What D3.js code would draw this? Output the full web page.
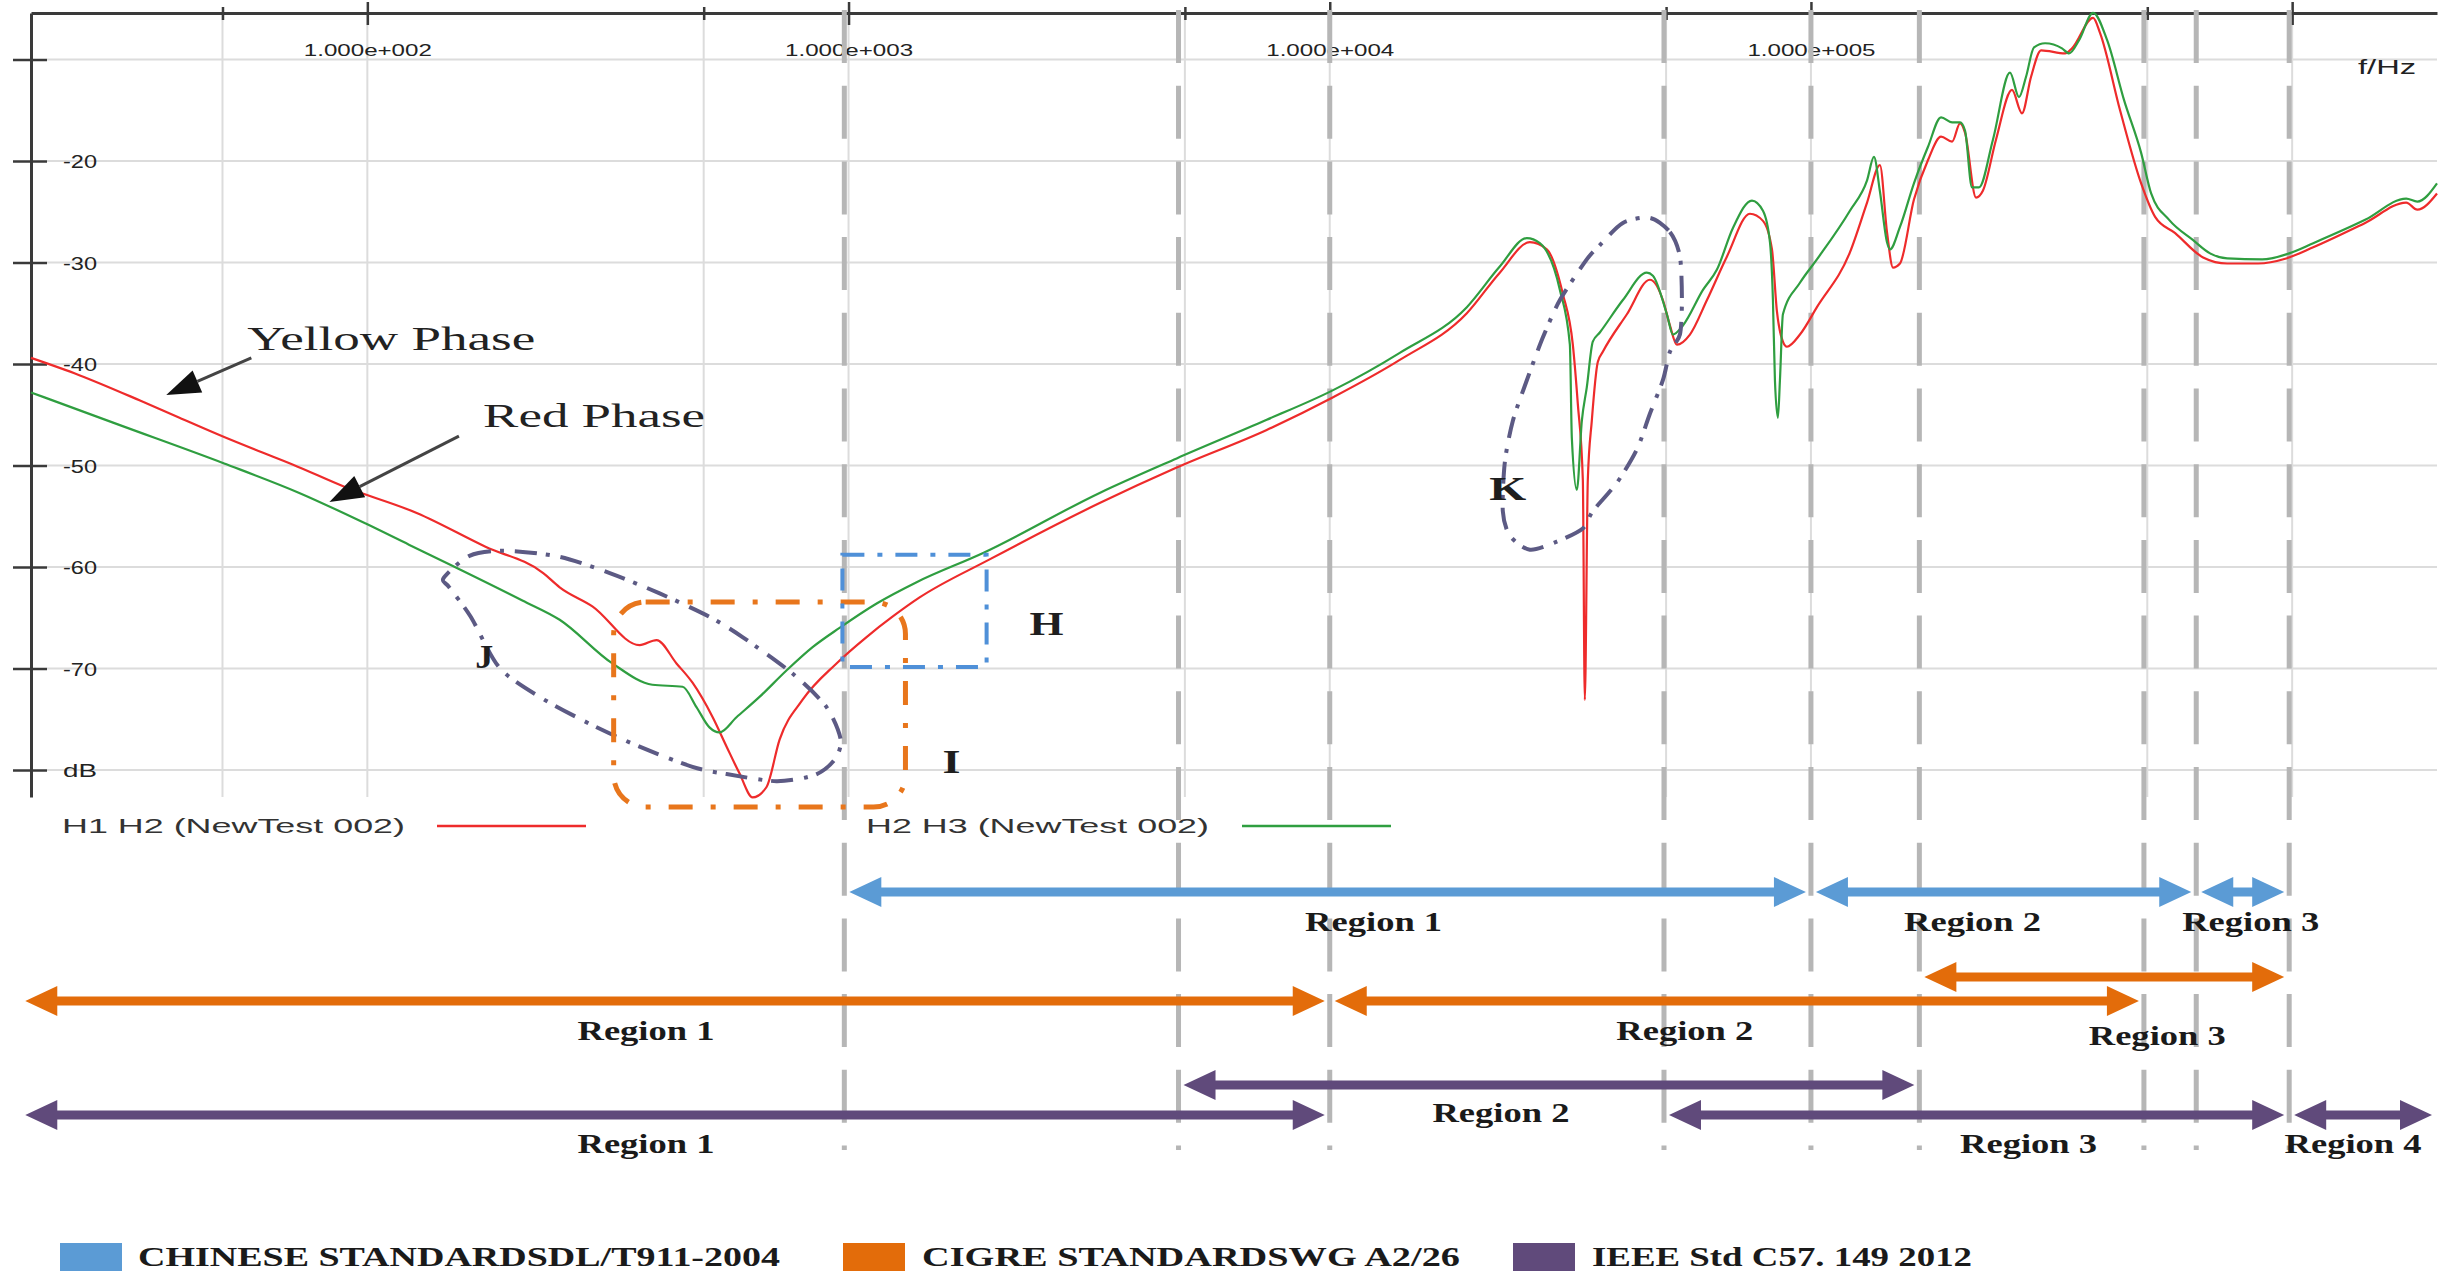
<!DOCTYPE html>
<html>
<head>
<meta charset="utf-8">
<script src="https://cdn.jsdelivr.net/npm/d3@7"></script>
<style>
  html, body { margin: 0; padding: 0; background: #ffffff; }
  svg { display: block; }
</style>
</head>
<body>
<script>
// ---------------------------------------------------------------
// Frequency response data (frequency in Hz, magnitude in dB)
// ---------------------------------------------------------------
const seriesNames = ["H1 H2 (NewTest 002)", "H2 H3 (NewTest 002)"];

const h1h2Freq = [20, 25.2, 33.7, 40.7, 50.4, 59.6, 69.9, 89.6, 127, 176, 232, 251, 294, 368, 399, 439, 474, 522, 558, 593,
  632, 675, 719, 802, 944, 1090, 1234, 1405, 1955, 3325, 4808, 7396, 10140, 13980, 19270, 22560, 26050, 28250, 30510, 32000,
  32770, 33570, 33890, 34380, 35040, 36060, 36940, 41450, 46270, 49240, 50920, 52660, 56040, 60800, 66910, 74680, 79480, 82980, 84970, 87450,
  89140, 94870, 102900, 120500, 130800, 139100, 143900, 148100, 153100, 163700, 175100, 186400, 196500, 204100, 209000, 220300, 227800, 242400, 261700, 274500,
  286700, 300800, 337400, 348800, 385800, 398900, 438900, 485500, 519100, 571300, 653100, 732800, 849900, 971600, 1106000, 1418000, 1726000, 1820000, 2000000];
const h1h2Db = [-39.4, -41.1, -43.6, -45.3, -47.2, -48.6, -49.9, -52.1, -54.7, -58.0, -60.6, -62.0, -63.9, -67.7, -67.2, -69.5, -71.4, -74.8, -77.7, -80.3,
  -82.7, -81.7, -77.0, -73.1, -69.5, -66.9, -64.9, -63.0, -59.3, -53.7, -50.2, -46.5, -43.3, -39.6, -35.0, -31.0, -28.0, -28.7, -33.1, -38.1,
  -43.9, -51.4, -73.1, -51.4, -45.6, -39.8, -38.8, -35.1, -31.7, -33.7, -36.2, -38.1, -37.1, -33.7, -29.4, -25.2, -25.9, -28.7, -34.8, -37.8,
  -38.3, -37.1, -34.4, -29.0, -24.1, -20.4, -27.0, -30.5, -30.1, -23.8, -19.9, -17.6, -18.1, -16.3, -17.2, -23.6, -22.9, -17.9, -13.0, -15.3,
  -11.7, -9.1, -9.4, -8.9, -5.9, -7.4, -15.0, -22.2, -25.5, -27.1, -29.5, -30.1, -30.1, -29.6, -28.5, -26.1, -24.1, -24.8, -23.2];

const h2h3Freq = [20, 30.5, 50.4, 72.2, 99.0, 122, 152, 210, 251, 323, 391, 452, 483, 514, 539, 585, 653, 743, 842, 958,
  1144, 1385, 1909, 3325, 4808, 7396, 10140, 13980, 19270, 22560, 25680, 27330, 30080, 31550, 31850, 32620, 33410, 34210, 35210, 36410,
  40660, 45600, 46940, 50190, 51660, 54200, 59650, 63780, 68850, 75400, 79480, 82190, 83370, 84170, 85380, 86210, 87450, 94870, 102900, 120500,
  130800, 135200, 139100, 143900, 146000, 153100, 163700, 175100, 186400, 196500, 204100, 209000, 216100, 223500, 238900, 259200, 270600, 279900, 290800, 306600,
  332500, 343900, 360700, 385800, 412600, 447400, 485500, 509300, 555100, 622700, 675300, 732800, 866300, 985800, 1106000, 1418000, 1726000, 1820000, 2000000];
const h2h3Db = [-42.8, -46.0, -49.8, -52.7, -55.7, -57.8, -60.0, -63.3, -65.2, -69.5, -71.6, -71.8, -73.8, -75.8, -76.3, -74.8, -72.8, -70.2, -67.9, -66.0,
  -63.6, -61.5, -58.6, -52.7, -49.3, -45.5, -42.6, -38.9, -34.4, -30.4, -27.6, -28.1, -32.7, -38.1, -47.3, -52.4, -45.6, -42.3, -37.8, -36.9,
  -33.7, -31.0, -31.3, -35.1, -37.1, -36.2, -32.7, -30.7, -26.6, -23.9, -24.9, -28.0, -33.7, -41.6, -45.3, -41.6, -35.1, -32.0, -29.7, -24.9,
  -21.9, -19.6, -23.0, -28.0, -28.7, -26.5, -22.2, -18.6, -15.7, -16.2, -16.2, -17.0, -22.6, -22.6, -17.9, -11.3, -13.7, -11.7, -8.8, -8.4,
  -8.9, -9.4, -8.1, -5.4, -8.1, -14.0, -19.2, -23.2, -25.8, -27.8, -29.1, -29.6, -29.7, -29.1, -28.1, -25.8, -23.7, -24.0, -22.2];

// Axis ticks
const xTickValues = [50, 100, 500, 1000, 5000, 10000, 50000, 100000, 500000, 1000000];
const xMajorTicks = [100, 1000, 10000, 100000, 1000000];
const xTickLabels = ["1.000e+002", "1.000e+003", "1.000e+004", "1.000e+005"];
const xLabelledTicks = [100, 1000, 10000, 100000];
const xUnitLabel = "f/Hz";
const yTickValues = [-10, -20, -30, -40, -50, -60, -70, -80];
const yTickLabels = ["", "-20", "-30", "-40", "-50", "-60", "-70", "dB"];

// Frequency band boundaries (Hz) used by the standards
const boundaryFreqs = [980, 4850, 10000, 49500, 100000, 168000, 492000, 632000, 986000];

// Standards and their frequency regions (Hz)
const standardNames = ["CHINESE STANDARDSDL/T911-2004", "CIGRE STANDARDSWG A2/26", "IEEE Std C57. 149 2012"];
const chineseRegions = [
  { name: "Region 1", from: 980, to: 100000 },
  { name: "Region 2", from: 100000, to: 632000 },
  { name: "Region 3", from: 632000, to: 986000 }
];
const cigreRegions = [
  { name: "Region 1", from: 19, to: 10000 },
  { name: "Region 2", from: 10000, to: 492000 },
  { name: "Region 3", from: 168000, to: 986000 }
];
const ieeeRegions = [
  { name: "Region 1", from: 19, to: 10000 },
  { name: "Region 2", from: 4850, to: 168000 },
  { name: "Region 3", from: 49500, to: 986000 },
  { name: "Region 4", from: 986000, to: 2000000 }
];

// Highlighted zones (outline points in Hz / dB)
const zoneJFreq = [144, 163, 193, 251, 319, 405, 514, 602, 765, 900, 963, 935, 850, 708, 558, 474, 368, 294, 228, 188, 164, 148];
const zoneJDb = [-61.1, -58.9, -58.4, -59.0, -60.6, -62.6, -64.9, -66.9, -70.5, -73.8, -77.0, -79.0, -80.5, -81.1, -80.4, -79.7, -77.7, -75.6, -72.8, -69.9, -64.9, -62.0];
const zoneKFreq = [46270, 50920, 53420, 53930, 53420, 50920, 49240, 46270, 43490, 39510, 35210, 33570, 29640, 26050, 23670, 22890, 23110, 24020, 25680, 27720, 30080, 34210, 36410, 40660];
const zoneKDb = [-25.6, -27.0, -29.4, -33.7, -37.1, -38.8, -41.6, -44.9, -48.4, -51.7, -54.5, -56.2, -57.5, -58.3, -56.9, -54.5, -49.7, -45.6, -41.6, -37.4, -33.7, -29.7, -28.3, -26.1];
const zoneI = { f0: 325, f1: 1313, db0: -63.45, db1: -83.65 };
const zoneH = { f0: 971, f1: 1936, db0: -58.8, db1: -69.85 };

// ---------------------------------------------------------------
// Drawing
// ---------------------------------------------------------------
const W = 2458, H = 1274;
const svg = d3.select("body").append("svg").attr("width", W).attr("height", H);

const plot = { left: 31, right: 2437, top: 13, bottom: 797 };
const x = d3.scaleLog().domain([20, 2e6]).range([plot.left, plot.right]);
const y = d3.scaleLinear().domain([-82.66, -5.42]).range([plot.bottom, plot.top]);

const SANS = "'Liberation Sans', Arial, sans-serif";
const SERIF = "'Liberation Serif', 'Times New Roman', serif";
const GRID = "#dcdcdc";
const AXIS = "#3a3a3a";

function stretchText(sel, width) {
  return sel.attr("textLength", width).attr("lengthAdjust", "spacingAndGlyphs");
}

// Grid lines
const grid = svg.append("g");
grid.selectAll("line.hgrid").data(yTickValues).join("line").attr("class", "hgrid")
  .attr("x1", 47).attr("x2", plot.right)
  .attr("y1", d => y(d)).attr("y2", d => y(d))
  .attr("stroke", GRID).attr("stroke-width", 2);
grid.selectAll("line.vgrid").data(xTickValues).join("line").attr("class", "vgrid")
  .attr("x1", d => x(d)).attr("x2", d => x(d))
  .attr("y1", plot.top).attr("y2", plot.bottom)
  .attr("stroke", GRID).attr("stroke-width", 2);

// Top frequency axis
const xAxis = svg.append("g").attr("transform", `translate(0,${plot.top})`)
  .call(d3.axisTop(x).tickValues(xTickValues).tickSizeOuter(0)
    .tickFormat(d => { const i = xLabelledTicks.indexOf(d); return i >= 0 ? xTickLabels[i] : ""; }));
xAxis.select(".domain").attr("stroke", AXIS).attr("stroke-width", 3);
xAxis.selectAll(".tick line")
  .attr("stroke", AXIS).attr("stroke-width", 2.5)
  .attr("y1", d => xMajorTicks.includes(d) ? -11 : -6)
  .attr("y2", d => xMajorTicks.includes(d) ? 12 : 7);
xAxis.selectAll(".tick text")
  .attr("y", 43).attr("dy", 0)
  .attr("fill", "#222").attr("font-family", SANS).attr("font-size", 17)
  .attr("text-anchor", "middle")
  .each(function (d) { if (xLabelledTicks.includes(d)) stretchText(d3.select(this), 128); });

// Left magnitude axis
const yAxis = svg.append("g").attr("transform", `translate(${plot.left},0)`)
  .call(d3.axisLeft(y).tickValues(yTickValues).tickSizeOuter(0)
    .tickFormat((d, i) => yTickLabels[i]));
yAxis.select(".domain").attr("stroke", AXIS).attr("stroke-width", 3);
yAxis.selectAll(".tick line")
  .attr("stroke", AXIS).attr("stroke-width", 2.5)
  .attr("x1", -18).attr("x2", 16);
yAxis.selectAll(".tick text")
  .attr("x", 32).attr("dy", "0.35em")
  .attr("text-anchor", "start")
  .attr("fill", "#222").attr("font-family", SANS).attr("font-size", 19)
  .each(function (d, i) { if (yTickLabels[i]) stretchText(d3.select(this), 34); });

stretchText(svg.append("text")
  .attr("x", 2358).attr("y", 74)
  .attr("font-family", SANS).attr("font-size", 20).attr("fill", "#222")
  .text(xUnitLabel), 58);

// Band boundaries (thick dashed grey verticals running down through the region rows)
svg.append("g").selectAll("line").data(boundaryFreqs).join("line")
  .attr("x1", d => x(d)).attr("x2", d => x(d))
  .attr("y1", 10).attr("y2", 1150)
  .attr("stroke", "#b6b6b6").attr("stroke-width", 5)
  .attr("stroke-dasharray", "53,22.7");

// Response curves
const line = d3.line().x(d => x(d[0])).y(d => y(d[1])).curve(d3.curveMonotoneX);
const h1h2 = h1h2Freq.map((f, i) => [f, h1h2Db[i]]);
const h2h3 = h2h3Freq.map((f, i) => [f, h2h3Db[i]]);
const RED = "#ee2b2b", GREEN = "#2f9e40";
svg.append("path").datum(h1h2).attr("d", line)
  .attr("fill", "none").attr("stroke", RED).attr("stroke-width", 2.2).attr("stroke-linejoin", "round");
svg.append("path").datum(h2h3).attr("d", line)
  .attr("fill", "none").attr("stroke", GREEN).attr("stroke-width", 2.2).attr("stroke-linejoin", "round");

// Series legend below the plot
const legendY = 826;
[[seriesNames[0], 62, 437, RED], [seriesNames[1], 866, 1242, GREEN]].forEach(([name, tx, lx, c]) => {
  stretchText(svg.append("text").attr("x", tx).attr("y", legendY + 7)
    .attr("font-family", SANS).attr("font-size", 21).attr("fill", "#333").text(name), 343);
  svg.append("line").attr("x1", lx).attr("x2", lx + 149).attr("y1", legendY).attr("y2", legendY)
    .attr("stroke", c).attr("stroke-width", 2.5);
});

// Highlighted zones
const ZONE = "#5c5a84";
const closed = d3.line().x(d => x(d[0])).y(d => y(d[1])).curve(d3.curveCardinalClosed.tension(0.2));
svg.append("path").datum(zoneJFreq.map((f, i) => [f, zoneJDb[i]])).attr("d", closed)
  .attr("fill", "none").attr("stroke", ZONE).attr("stroke-width", 4).attr("stroke-dasharray", "22,9,4,11");
svg.append("path").datum(zoneKFreq.map((f, i) => [f, zoneKDb[i]])).attr("d", closed)
  .attr("fill", "none").attr("stroke", ZONE).attr("stroke-width", 4).attr("stroke-dasharray", "22,9,4,11");
svg.append("rect")
  .attr("x", x(zoneI.f0)).attr("y", y(zoneI.db0))
  .attr("width", x(zoneI.f1) - x(zoneI.f0)).attr("height", y(zoneI.db1) - y(zoneI.db0))
  .attr("rx", 32).attr("fill", "none").attr("stroke", "#e8761c").attr("stroke-width", 5)
  .attr("stroke-dasharray", "24,18,5,18");
svg.append("rect")
  .attr("x", x(zoneH.f0)).attr("y", y(zoneH.db0))
  .attr("width", x(zoneH.f1) - x(zoneH.f0)).attr("height", y(zoneH.db1) - y(zoneH.db0))
  .attr("fill", "none").attr("stroke", "#4f90d8").attr("stroke-width", 4)
  .attr("stroke-dasharray", "22,13,5,13");

// Zone letters
[["J", 175, -70.0, 18], ["H", 2580, -66.7, 34], ["I", 1637, -80.3, 18], ["K", 23440, -53.4, 37]].forEach(([t, f, db, w]) => {
  stretchText(svg.append("text").attr("x", x(f) - w / 2).attr("y", y(db))
    .attr("font-family", SERIF).attr("font-weight", "bold").attr("font-size", 33).attr("fill", "#1e1e1e").text(t), w);
});

// Phase call-outs with pointer arrows
function pointer(f0, db0, f1, db1) {
  const x0 = x(f0), y0 = y(db0), x1 = x(f1), y1 = y(db1);
  const dx = x1 - x0, dy = y1 - y0, len = Math.hypot(dx, dy);
  const ux = dx / len, uy = dy / len, nx = -uy, ny = ux;
  const hl = 34, hw = 12;
  const bx = x1 - ux * hl, by = y1 - uy * hl;
  svg.append("line").attr("x1", x0).attr("y1", y0).attr("x2", bx).attr("y2", by)
    .attr("stroke", "#444").attr("stroke-width", 3);
  svg.append("path")
    .attr("d", `M${x1},${y1}L${bx + nx * hw},${by + ny * hw}L${bx - nx * hw},${by - ny * hw}Z`)
    .attr("fill", "#111");
}
stretchText(svg.append("text").attr("x", x(56.3)).attr("y", y(-38.6))
  .attr("font-family", SERIF).attr("font-size", 34).attr("fill", "#222").text("Yellow Phase"), 288);
pointer(57.4, -39.4, 38.2, -43.05);
stretchText(svg.append("text").attr("x", x(174)).attr("y", y(-46.2))
  .attr("font-family", SERIF).attr("font-size", 34).attr("fill", "#222").text("Red Phase"), 222);
pointer(155, -47.1, 83.4, -53.6);

// Region arrows for the three standards
const standardColors = ["#5b9bd5", "#e36c0a", "#604a7b"];
const regionSets = [chineseRegions, cigreRegions, ieeeRegions];
// arrow row (y), label baseline and label shift for each region
const regionPlacement = [
  [{ ay: 892, ly: 931, dx: 46 }, { ay: 892, ly: 931, dx: -31 }, { ay: 892, ly: 931, dx: 8 }],
  [{ ay: 1001, ly: 1040, dx: -29 }, { ay: 1001, ly: 1040, dx: -52 }, { ay: 977, ly: 1045, dx: 53 }],
  [{ ay: 1115, ly: 1153, dx: -29 }, { ay: 1085, ly: 1122, dx: -48 }, { ay: 1115, ly: 1153, dx: 52 }, { ay: 1115, ly: 1153, dx: -10 }]
];
const inset = 5, headLen = 32, headHalf = 15, shaftHalf = 4.5;
function doubleArrow(x0, x1, yc) {
  return `M${x0},${yc}L${x0 + headLen},${yc - headHalf}L${x0 + headLen},${yc - shaftHalf}` +
    `L${x1 - headLen},${yc - shaftHalf}L${x1 - headLen},${yc - headHalf}L${x1},${yc}` +
    `L${x1 - headLen},${yc + headHalf}L${x1 - headLen},${yc + shaftHalf}` +
    `L${x0 + headLen},${yc + shaftHalf}L${x0 + headLen},${yc + headHalf}Z`;
}
regionSets.forEach((regions, s) => {
  const g = svg.append("g");
  regions.forEach((r, i) => {
    const p = regionPlacement[s][i];
    const x0 = x(r.from) + inset, x1 = x(r.to) - inset;
    g.append("path").attr("d", doubleArrow(x0, x1, p.ay)).attr("fill", standardColors[s]);
    stretchText(g.append("text")
      .attr("x", (x0 + x1) / 2 + p.dx - 68.5).attr("y", p.ly)
      .attr("font-family", SERIF).attr("font-weight", "bold").attr("font-size", 27)
      .attr("fill", "#1a1a1a").text(r.name), 137);
  });
});

// Standards legend
const stdLegend = [
  { sq: 60, tx: 138, w: 642 },
  { sq: 843, tx: 922, w: 538 },
  { sq: 1513, tx: 1592, w: 380 }
];
standardNames.forEach((name, i) => {
  const l = stdLegend[i];
  svg.append("rect").attr("x", l.sq).attr("y", 1243).attr("width", 62).attr("height", 28)
    .attr("fill", standardColors[i]);
  stretchText(svg.append("text").attr("x", l.tx).attr("y", 1266)
    .attr("font-family", SERIF).attr("font-weight", "bold").attr("font-size", 27)
    .attr("fill", "#1a1a1a").text(name), l.w);
});
</script>
</body>
</html>
